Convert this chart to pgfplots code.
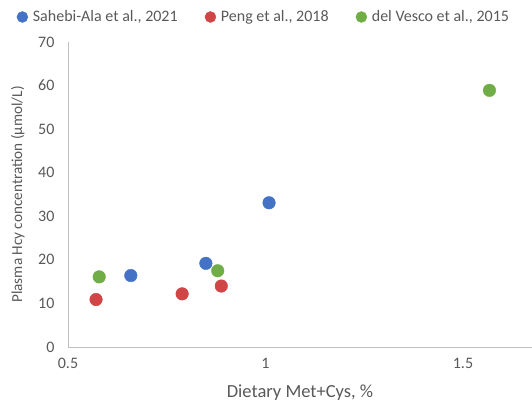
\documentclass[border=0pt]{standalone}
\usepackage{fontspec}
\setmainfont{Carlito}
\usepackage{pgfplots}
\pgfplotsset{compat=1.18}
\definecolor{cblue}{HTML}{4472C4}
\definecolor{cred}{HTML}{D04545}
\definecolor{cgreen}{HTML}{70AD47}
\definecolor{axgray}{HTML}{BFBFBF}
\definecolor{txtgray}{HTML}{595959}
\begin{document}
\begin{tikzpicture}
\useasboundingbox (0pt,0pt) rectangle (532pt,405pt);
\begin{axis}[
  at={(68pt,58pt)}, anchor=south west,
  scale only axis, width=464pt, height=305pt,
  xmin=0.5, xmax=1.6747, ymin=0, ymax=70,
  axis lines=left, axis line style={axgray, line width=0.8pt, -},
  xtick={0.5,1,1.5}, ytick={0,10,...,70},
  xticklabels={0.5,1,1.5},
  tick style={draw=none},
  major tick length=0pt,
  /pgf/number format/assume math mode=true,
  ticklabel style={font=\fontsize{16}{18}\selectfont, text=txtgray},
  xticklabel style={yshift=-8pt},
  yticklabel style={xshift=-10pt},
  xlabel={Dietary Met+Cys, \%},
  ylabel={Plasma Hcy concentration (µmol/L)},
  xlabel style={font=\fontsize{18.5}{20}\selectfont, text=txtgray, at={(axis description cs:0.5,-0.148)}, anchor=center},
  ylabel style={font=\fontsize{15.2}{17}\selectfont, text=txtgray, at={(axis description cs:-0.108,0.5)}, anchor=center},
  clip=false,
  legend columns=3,
  legend style={at={(axis description cs:-0.111,1.082)}, anchor=west, draw=none, fill=none,
    font=\fontsize{16}{18}\selectfont, text=txtgray, inner sep=0pt,
    nodes={inner xsep=0pt, inner ysep=1pt},
    /tikz/every even column/.append style={column sep=0pt},
    /tikz/every odd column/.append style={column sep=0pt}},
  legend image code/.code={\fill[#1] (5.5pt,0) circle (5.5pt); \path[draw=none,fill=none] (16pt,0);},
]
\addplot[only marks, mark=*, mark size=6.3pt, color=cblue, mark options={draw=cblue, fill=cblue}]
  coordinates {(0.659,16.4) (0.849,19.2) (1.009,33.1)};
\addlegendentry{Sahebi-Ala et al., 2021\hspace*{27pt}}
\addplot[only marks, mark=*, mark size=6.3pt, color=cred, mark options={draw=cred, fill=cred}]
  coordinates {(0.571,10.9) (0.789,12.2) (0.888,14.0)};
\addlegendentry{Peng et al., 2018\hspace*{27pt}}
\addplot[only marks, mark=*, mark size=6.3pt, color=cgreen, mark options={draw=cgreen, fill=cgreen}]
  coordinates {(0.579,16.1) (0.879,17.5) (1.567,58.9)};
\addlegendentry{del Vesco et al., 2015}
\end{axis}
\end{tikzpicture}
\end{document}
